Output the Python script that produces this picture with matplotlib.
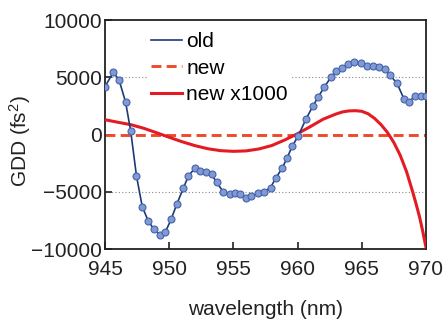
import matplotlib
matplotlib.use('Agg')
import matplotlib.pyplot as plt
from matplotlib.lines import Line2D

plt.rcParams['font.family'] = ['Liberation Sans', 'DejaVu Sans']
plt.rcParams['mathtext.default'] = 'regular'

#--- measured GDD of old mirror (fs^2)
wl_old = [945.0, 945.65, 946.1, 946.6, 947.0, 947.45, 947.9, 948.35, 948.8, 949.3,
          949.7, 950.15, 950.6, 951.1, 951.5, 952.0, 952.4, 952.9, 953.3, 953.7,
          954.2, 954.7, 955.1, 955.5, 956.0, 956.4, 956.9, 957.4, 957.9, 958.3,
          958.8, 959.2, 959.6, 960.05, 960.65, 961.2, 961.6, 962.1, 962.6, 963.0,
          963.45, 963.95, 964.4, 964.95, 965.4, 965.85, 966.35, 966.8, 967.2, 967.75,
          968.3, 968.7, 969.15, 969.65, 970.0]
gdd_old = [4200, 5450, 4750, 2850, 320, -3600, -6280, -7500, -8250, -8750,
           -8500, -7400, -6050, -4680, -3600, -2940, -3200, -3230, -3450, -4180,
           -4970, -5170, -5060, -5200, -5490, -5400, -5120, -4970, -4620, -3800,
           -2940, -2000, -990, -120, 1340, 2500, 3260, 4180, 5000, 5550,
           5840, 6160, 6310, 6280, 6020, 5990, 5930, 5700, 5200, 4480,
           3110, 2880, 3370, 3370, 3370]

#--- new design (scaled x1000)
wl_new = [945, 946, 947, 948, 949, 950, 951, 952, 953, 954, 955, 956, 957, 958,
          959, 960, 961, 962, 963, 963.5, 964, 964.5, 965, 965.5, 966, 966.5,
          967, 967.5, 968, 968.5, 969, 969.25, 969.5, 969.75, 970]
gdd_new1000 = [1300, 1080, 870, 560, 170, -230, -620, -960, -1230, -1400, -1460,
               -1420, -1250, -950, -470, 80, 700, 1350, 1800, 1980, 2070, 2090,
               2040, 1820, 1420, 880, 200, -680, -1800, -3250, -5100, -6100,
               -7150, -8400, -9800]
gdd_new = [0 for _ in wl_new]

#--- figure
fig = plt.figure(figsize=(4.45, 3.24), dpi=100)
ax = fig.add_axes([0.236, 0.231, 0.721, 0.707])

#--- dotted guide lines
for yg in [5000, -5000]:
    ax.axhline(yg, color='#888888', lw=0.8, ls=(0, (1, 2)), zorder=0)

ax.plot(wl_new, gdd_new, color='#ee4a2a', lw=2.1, dashes=(3.4, 1.8), zorder=2)
ax.plot(wl_new, gdd_new1000, color='#e41b23', lw=2.2, zorder=3)
ax.plot(wl_old, gdd_old, color='#1c3a78', lw=1.2, zorder=4)
ax.plot(wl_old, gdd_old, ls='none', marker='o', ms=5.0,
        mfc='#7f9ad4', mec='#4663a8', mew=0.8, zorder=5)

#--- axes
ax.set_xlim(945, 970)
ax.set_ylim(-10000, 10000)
ax.set_xticks([945, 950, 955, 960, 965, 970])
ax.set_yticks([-10000, -5000, 0, 5000, 10000])
ax.tick_params(direction='in', length=5, width=1.2, labelsize=15, pad=2,
               colors='#222222')
ax.tick_params(axis='x', pad=8)
for s in ax.spines.values():
    s.set_linewidth(1.3)
    s.set_color('#222222')

ax.set_xlabel('wavelength (nm)', fontsize=15, color='#222222')
ax.xaxis.set_label_coords(0.5, -0.222)
ax.set_ylabel('GDD (fs$^2$)', fontsize=15, color='#222222')
ax.yaxis.set_label_coords(-0.224, 0.47)

#--- legend
handles = [Line2D([], [], color='#1c3a78', lw=1.2),
           Line2D([], [], color='#ee4a2a', lw=2.1, dashes=(3.4, 1.8)),
           Line2D([], [], color='#e41b23', lw=2.2)]
leg = ax.legend(handles, ['old', 'new', 'new x1000'], loc='upper left',
                bbox_to_anchor=(0.13, 0.965), fontsize=15, frameon=True,
                handlelength=1.5, handletextpad=0.2, labelspacing=0.35,
                borderpad=0.2, borderaxespad=0)
leg.get_frame().set_edgecolor('none')
leg.get_frame().set_facecolor('white')
leg.get_frame().set_alpha(1)
leg.set_zorder(1)

plt.savefig('out.png', dpi=100)
